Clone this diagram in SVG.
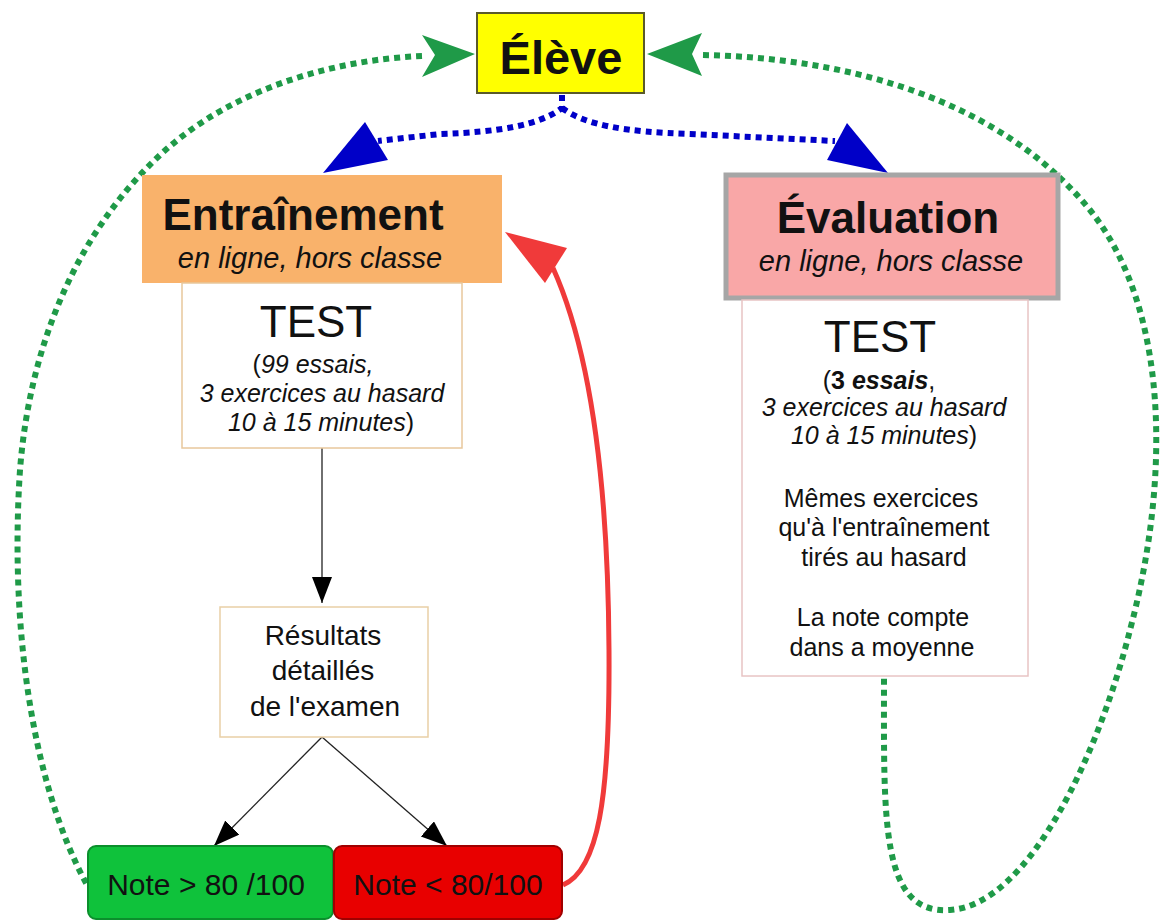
<svg xmlns="http://www.w3.org/2000/svg" width="1168" height="922" viewBox="0 0 1168 922">
<style>
text{font-family:"Liberation Sans",Arial,sans-serif;text-anchor:middle;fill:#111}
.b{font-weight:bold}
.i{font-style:italic}
.big{font-size:44px}
.sub{font-size:29px;font-style:italic}
.body{font-size:25px}
.green{fill:none;stroke:#1f9a48;stroke-width:6;stroke-dasharray:6 5}
.blue{fill:none;stroke:#0000c8;stroke-width:6;stroke-dasharray:6 5}
.blk{fill:none;stroke:#222;stroke-width:1.3}
</style>
<defs>
<marker id="ah" markerUnits="userSpaceOnUse" markerWidth="30" markerHeight="24" refX="26" refY="10" orient="auto">
<path d="M0,0 L26,10 L0,20 z" fill="#000"/>
</marker>
</defs>
<rect width="1168" height="922" fill="#fff"/>

<g id="connectors">
<path class="green" d="M422,56 C330,60 230,90 160,155 C80,230 30,340 20,470 C10,620 30,780 87,885"/>
<polygon points="475,54 422,35 435,55 422,77" fill="#1f9a48"/>
<path class="green" d="M703,55 C850,58 1000,100 1090,210 C1170,310 1170,480 1130,630 C1100,750 1030,905 950,910 C880,915 884,820 884,678"/>
<polygon points="647,54 702,33 692,54 702,76" fill="#1f9a48"/>
<path class="blue" d="M562,95 L562,108 C540,125 500,132 440,134 L378,141"/>
<path class="blue" d="M562,108 C585,125 625,132 690,134 L835,141"/>
<polygon points="323,173 365,122 388,160" fill="#0000c8"/>
<polygon points="888,173 847,123 827,160" fill="#0000c8"/>
<path d="M563,885 C598,870 610,800 609,650 C608,480 590,350 553,268" fill="none" stroke="#f03a3a" stroke-width="5"/>
<polygon points="505,232 567,248 545,283" fill="#f03a3a"/>
<line class="blk" x1="322" y1="448" x2="322" y2="603" marker-end="url(#ah)"/>
<line class="blk" x1="322" y1="737" x2="214" y2="846" marker-end="url(#ah)"/>
<line class="blk" x1="322" y1="737" x2="447" y2="846" marker-end="url(#ah)"/>
</g>

<g id="eleve">
<rect x="477" y="13" width="167" height="80" fill="#ffff00" stroke="#5a5a2a" stroke-width="2"/>
<text x="561" y="74" class="b" font-size="47">Élève</text>
</g>

<g id="entrainement">
<rect x="142" y="175" width="360" height="108" fill="#f9b26b"/>
<text x="303" y="230" class="b big">Entraînement</text>
<text x="310" y="268" class="sub">en ligne, hors classe</text>
</g>

<g id="test-entrainement">
<rect x="182" y="283" width="280" height="165" fill="#fff" stroke="#e8c79c" stroke-width="1.5"/>
<text x="316" y="337" class="big">TEST</text>
<text x="313" y="373" class="body">(<tspan class="i">99 essais,</tspan></text>
<text x="322" y="402" class="body i">3 exercices au hasard</text>
<text x="321" y="431" class="body"><tspan class="i">10 à 15 minutes</tspan>)</text>
</g>

<g id="evaluation">
<rect x="726" y="175" width="332" height="123" fill="#f9a7a7" stroke="#a6a6a6" stroke-width="5"/>
<text x="888" y="233" class="b big">Évaluation</text>
<text x="891" y="271" class="sub">en ligne, hors classe</text>
</g>

<g id="test-evaluation">
<rect x="742" y="300" width="286" height="376" fill="#fff" stroke="#e8c4c4" stroke-width="1.5"/>
<text x="880" y="352" class="big">TEST</text>
<text x="879" y="389" class="body">(<tspan class="b">3 </tspan><tspan class="b i">essais</tspan>,</text>
<text x="884" y="416" class="body i">3 exercices au hasard</text>
<text x="884" y="444" class="body"><tspan class="i">10 à 15 minutes</tspan>)</text>
<text x="881" y="507" class="body">Mêmes exercices</text>
<text x="884" y="536" class="body">qu'à l'entraînement</text>
<text x="884" y="566" class="body">tirés au hasard</text>
<text x="883" y="626" class="body">La note compte</text>
<text x="882" y="656" class="body">dans a moyenne</text>
</g>

<g id="resultats">
<rect x="220" y="607" width="208" height="130" fill="#fff" stroke="#e9cfa6" stroke-width="1.5"/>
<text x="323" y="645" font-size="28">Résultats</text>
<text x="323" y="680" font-size="28">détaillés</text>
<text x="325" y="716" font-size="28">de l'examen</text>
</g>

<g id="note-plus">
<rect x="88" y="846" width="245" height="73" rx="8" fill="#0fc23b" stroke="#0b8f2c" stroke-width="2"/>
<text x="206" y="895" font-size="30" fill="#0a3a12">Note &gt; 80 /100</text>
</g>

<g id="note-moins">
<rect x="334" y="846" width="228" height="73" rx="8" fill="#e80000" stroke="#a00000" stroke-width="2"/>
<text x="448" y="895" font-size="30" fill="#3a0000">Note &lt; 80/100</text>
</g>
</svg>
